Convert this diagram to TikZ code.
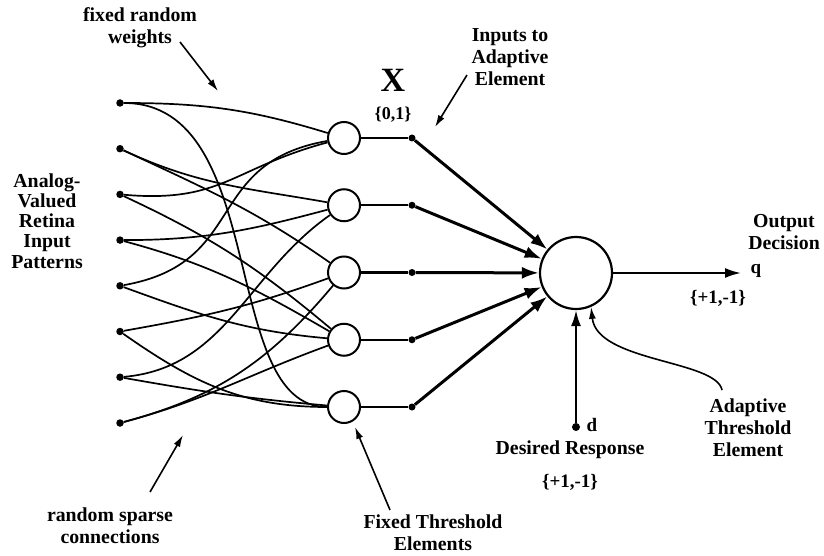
\documentclass[tikz,border=0pt]{standalone}
\usepackage{fontspec}
\setmainfont{Liberation Serif}
\usetikzlibrary{arrows.meta}
\begin{document}
\begin{tikzpicture}[x=1pt,y=1pt,
  lbl/.style={font=\bfseries\fontsize{19.8}{21.8}\selectfont, align=center, inner sep=0pt},
  setlbl/.style={font=\bfseries\fontsize{19}{20}\selectfont, inner sep=0pt},
  inpt/.style={circle, fill=black, minimum size=7.5pt, inner sep=0pt},
  tap/.style={circle, fill=black, minimum size=7pt, inner sep=0pt},
  fte/.style={circle, draw, line width=2pt, fill=white, minimum size=32pt, inner sep=0pt},
  ada/.style={circle, draw, line width=2.2pt, fill=white, minimum size=72pt, inner sep=0pt},
  wire/.style={line width=1.7pt},
  link/.style={line width=2.2pt},
  weight/.style={line width=3pt, -{Latex[length=17pt,width=12pt]}},
  signal/.style={line width=2.2pt, -{Latex[length=16pt,width=10pt]}},
  pointer/.style={line width=1.6pt, -{Latex[length=12pt,width=7pt]}},
]
\useasboundingbox (0,0) rectangle (824,-556);

% retina inputs
\foreach \k/\y in {1/103,2/148.7,3/194.4,4/240.1,5/285.8,6/331.5,7/377.2,8/423}
  \node[inpt] (i\k) at (120,-\y) {};

% fixed threshold elements and their output taps
\foreach \k/\y in {1/138,2/205.25,3/272.5,4/339.75,5/407} {
  \node[fte] (c\k) at (344,-\y) {};
  \node[tap] (t\k) at (412,-\y) {};
}

% adaptive element
\node[ada] (B) at (576,-273) {};

% random sparse connections
\draw[wire] (i1) to[out=0,in=163] (c1);
\draw[wire] (i1) .. controls +(150,0) and +(-125,0) .. (c5);
\draw[wire] (i2) to[out=-25,in=170] (c2);
\draw[wire] (i2) to[out=-25,in=145] (c3);
\draw[wire] (i3) to[out=-5,in=195,looseness=1.2] (c1);
\draw[wire] (i3) to[out=-25,in=140] (c4);
\draw[wire] (i4) to[out=0,in=195] (c2);
\draw[wire] (i4) to[out=-15,in=150] (c4);
\draw[wire] (i5) to[out=10,in=190,looseness=1.3] (c1);
\draw[wire] (i5) to[out=-20,in=175] (c4);
\draw[wire] (i6) to[out=10,in=200] (c3);
\draw[wire] (i6) to[out=-35,in=180] (c5);
\draw[wire] (i7) to[out=5,in=215] (c2);
\draw[wire] (i7) to[out=-10,in=175] (c5);
\draw[wire] (i8) to[out=15,in=230] (c3);
\draw[wire] (i8) to[out=15,in=200] (c4);

% element outputs feeding the adaptive element
\foreach \k in {1,...,5} {
  \draw[link] (c\k) -- (t\k);
  \draw[weight] (t\k) -- (B);
}

% output decision
\coordinate (qend) at (741,-273);
\draw[signal, line width=2pt] (B) -- (qend);
\node[setlbl] (q) at (756,-271) {q};
\node[setlbl] (qset) at (718,-298) {\{+1,-1\}};
\node[lbl] (outlbl) at (784,-232) {Output\\Decision};

% desired response
\node[inpt, minimum size=8pt] (dd) at (576,-427) {};
\draw[signal] (dd) -- (B);
\node[setlbl] (dlbl) at (592,-425) {d};
\node[lbl] (desired) at (570,-450) {Desired Response};
\node[setlbl] (dset) at (570,-482) {\{+1,-1\}};

% adaptive threshold
\coordinate (thrfrom) at (722,-390);
\draw[pointer] (thrfrom) .. controls (716,-360) and (597,-362) .. (B.-66);
\node[lbl] (thrlbl) at (748,-428) {Adaptive\\Threshold\\Element};

% X vector label
\node[font=\bfseries\fontsize{34}{34}\selectfont, inner sep=0pt] (xlbl) at (393,-80) {X};
\node[setlbl, font=\bfseries\fontsize{18}{20}\selectfont] (xset) at (393,-115) {\{0,1\}};

% annotations
\node[lbl] (weights) at (140,-28) {fixed random\\weights};
\coordinate (wa) at (180,-42);
\coordinate (wb) at (218,-91);
\draw[pointer] (wa) -- (wb);

\node[lbl] (inputs) at (510,-57) {Inputs to\\Adaptive\\Element};
\coordinate (ia) at (467,-75);
\coordinate (ib) at (435,-127);
\draw[pointer] (ia) -- (ib);

\node[lbl, font=\bfseries\fontsize{19.8}{20.2}\selectfont] (retina) at (47,-221) {Analog-\\Valued\\Retina\\Input\\Patterns};

\node[lbl] (sparse) at (110,-526) {random sparse\\connections};
\coordinate (sa) at (150,-492);
\coordinate (sb) at (183,-435);
\draw[pointer] (sa) -- (sb);

\node[lbl] (fixedlbl) at (433,-533) {Fixed Threshold\\Elements};
\coordinate (fa) at (390,-510);
\coordinate (fb) at (355,-427);
\draw[pointer] (fa) -- (fb);
\end{tikzpicture}
\end{document}
